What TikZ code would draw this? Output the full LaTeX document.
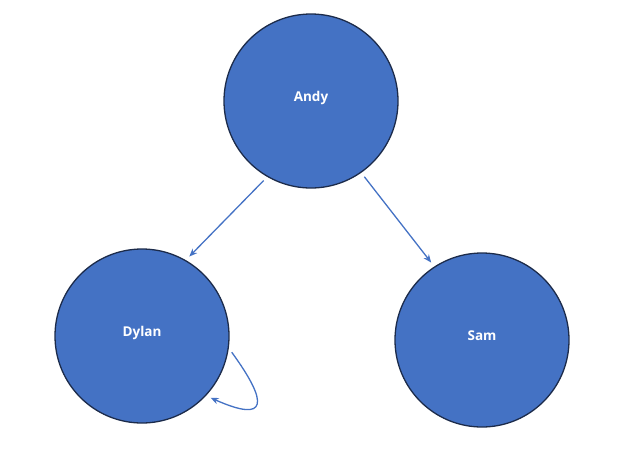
\documentclass[tikz,border=0pt]{standalone}
\usepackage{fontspec}
\setmainfont{Open Sans}
\usetikzlibrary{arrows.meta}
\definecolor{nodefill}{HTML}{4472C4}
\definecolor{nodeline}{HTML}{1C2B4A}
\definecolor{edgecol}{HTML}{4472C4}
\begin{document}
\begin{tikzpicture}[x=1pt,y=-1pt,
  person/.style={circle,fill=nodefill,draw=nodeline,line width=1.3pt,minimum size=174pt,inner sep=0pt,text=white,text height=5pt,text depth=5pt,font=\fontsize{13.5}{15}\selectfont\bfseries},
  edge/.style={draw=edgecol,line width=1.3pt,-{Stealth[length=8pt,width=6.5pt]},shorten <=5pt,shorten >=5pt}]
\useasboundingbox (0,0) rectangle (622,469);
\node[person] (andy) at (311,101) {Andy};
\node[person] (dylan) at (142,336) {Dylan};
\node[person] (sam) at (482,340) {Sam};
\draw[edge] (andy.240) -- (dylan.60);
\draw[edge] (andy.-55) -- (sam.123);
\draw[edge] (dylan.-8) .. controls +(54:68) and +(24:68) .. (dylan.-43);
\end{tikzpicture}
\end{document}
